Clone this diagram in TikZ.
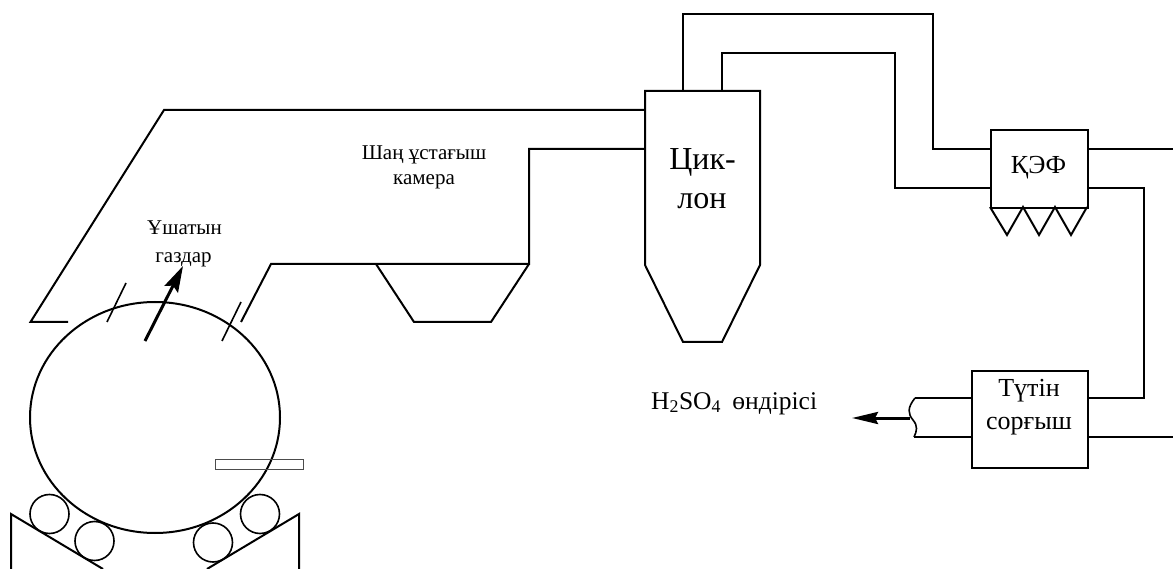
\documentclass[tikz,border=0pt]{standalone}
\usepackage{fontspec}
\setmainfont{Liberation Serif}
\usetikzlibrary{arrows.meta}
\tikzset{
  pipe/.style={draw=black,line width=2pt,line join=miter},
  thin pipe/.style={draw=black,line width=1.6pt},
  lbl/.style={inner sep=0pt,anchor=base,text=black},
  flow/.style={draw=black,line width=3pt,-{Stealth[length=26pt,width=15pt,inset=4pt]}},
  flow small/.style={draw=black,line width=3pt,-{Stealth[length=26pt,width=12pt,inset=3pt]}},
  unit/.style={draw=black,line width=2pt,inner sep=0pt,anchor=north west}
}
\newcommand{\fs}[1]{\fontsize{#1}{#1}\selectfont}
\begin{document}
\begin{tikzpicture}[x=1pt,y=-1pt]
\useasboundingbox (0,0) rectangle (1173,569);
% kiln
\draw[pipe] (155,417.5) ellipse [x radius=125,y radius=115.5];
\node[draw=black!70,line width=1.2pt,inner sep=0pt,minimum width=88pt,minimum height=10pt,anchor=north west] (bar) at (215,459) {};
\foreach \n/\cx/\cy in {ra/49.5/514, rb/94.5/541, rc/213/542.5, rd/260/514}
  \node[draw=black,line width=1.6pt,circle,inner sep=0pt,minimum size=39pt] (\n) at (\cx,\cy) {};
\draw[pipe] (11,569) -- (11,514) -- (103,569);
\draw[pipe] (299,569) -- (299,514) -- (207,569);
\draw[thin pipe] (107,322) -- (126,283);
\draw[thin pipe] (222,341) -- (241,302);
\coordinate (gs) at (145,341); \coordinate (ge) at (183,266);
\draw[flow] (gs) -- (ge);
% chamber
\coordinate (c1) at (645,110); \coordinate (c2) at (645,149);
\draw[pipe] (68,322) -- (30.5,322) -- (164,110) -- (c1);
\draw[pipe] (241,322) -- (271,264) -- (529,264) -- (529,149) -- (c2);
\draw[pipe] (376,264) -- (414,322) -- (491,322) -- (529,264);
% cyclone
\draw[pipe] (645,91) -- (760,91) -- (760,265) -- (722,342) -- (683,342) -- (645,265) -- cycle;
\node[lbl,font=\fs{32}] (cyc1) at (702.5,170) {Цик-};
\node[lbl,font=\fs{32}] (cyc2) at (702,209) {лон};
% units
\node[unit,minimum width=97pt,minimum height=78pt] (kef) at (990,129) {};
\node[lbl,font=\fs{26}] (keft) at (1038.5,174) {ҚЭФ};
\node[unit,minimum width=116pt,minimum height=97pt] (fan) at (971,370) {};
\node[lbl,font=\fs{26}] (fan1) at (1029,396) {Түтін};
\node[lbl,font=\fs{26}] (fan2) at (1029,429) {сорғыш};
% hoppers under filter
\draw[pipe] (990,207) -- (1007,235) -- (1023,207) -- (1039,235) -- (1055,207) -- (1071,235) -- (1087,207);
% duct
\draw[pipe] (683,91) -- (683,14) -- (933,14) -- (933,149) -- (990,149);
\draw[pipe] (721.5,91) -- (721.5,53) -- (894.5,53) -- (894.5,188) -- (990,188);
\draw[pipe] (1087,149) -- (1173,149);
\draw[pipe] (1087,188) -- (1144,188) -- (1144,398) -- (1087,398);
\draw[pipe] (1087,437) -- (1173,437);
\draw[pipe] (971,398) -- (915,398);
\draw[pipe] (971,437) -- (914,437);
\draw[thin pipe] (915,398) .. controls (907,408) and (908,414) .. (913,420) .. controls (918,426) and (917,431) .. (914,437);
\coordinate (as) at (910,418); \coordinate (ae) at (852,418);
\draw[flow small] (as) -- (ae);
% labels
\node[lbl,font=\fs{21}] (l1) at (184.5,235) {Ұшатын};
\node[lbl,font=\fs{21}] (l2) at (183.5,263) {газдар};
\node[lbl,font=\fs{21}] (l3) at (424,160) {Шаң ұстағыш};
\node[lbl,font=\fs{21}] (l4) at (424,185) {камера};
\node[lbl,font=\fs{25.5},anchor=base west] (l5) at (651,409) {H\textsubscript{2}SO\textsubscript{4}\hspace{5pt} өндірісі};
\end{tikzpicture}
\end{document}
